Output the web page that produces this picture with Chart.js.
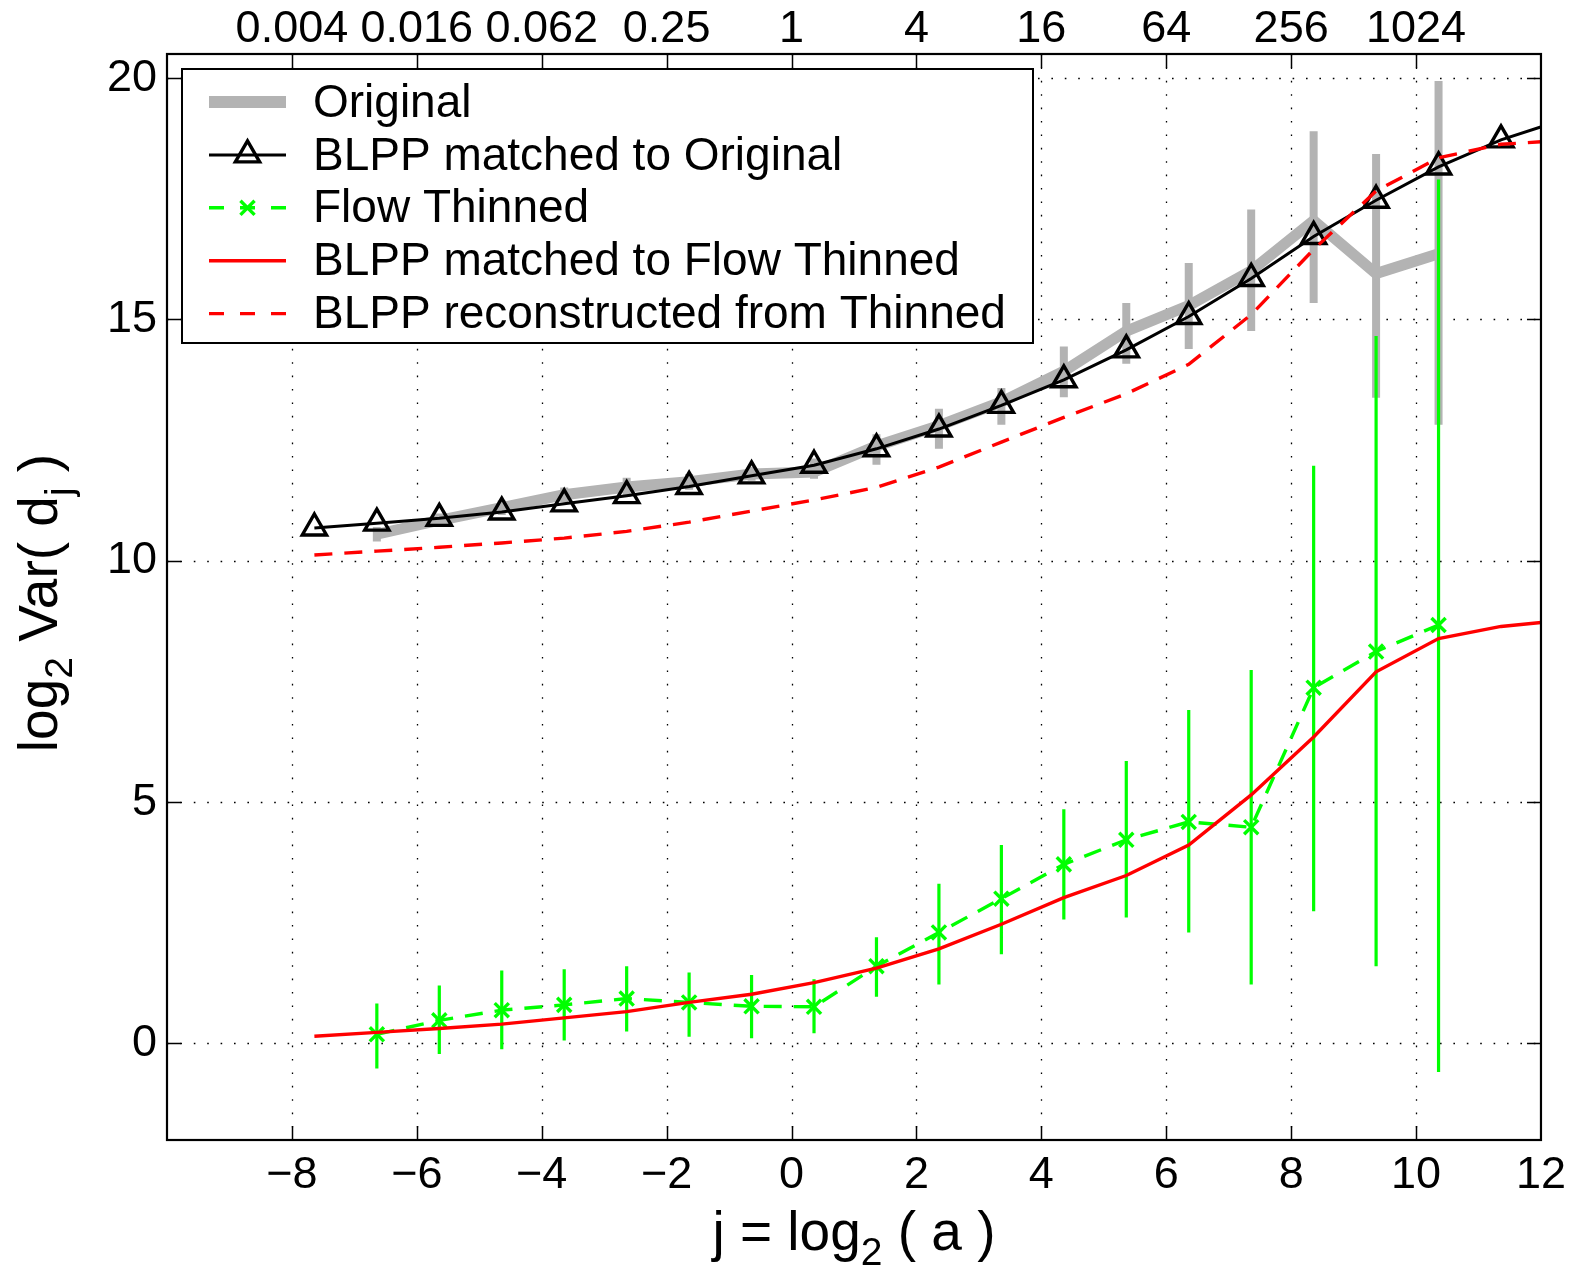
<!DOCTYPE html>
<html>
<head>
<meta charset="utf-8">
<title>log2 Var(d_j) versus scale</title>
<script src="https://cdn.jsdelivr.net/npm/chart.js"></script>
<style>
  html, body { margin: 0; padding: 0; background: #fff; }
  canvas { display: block; }
</style>
</head>
<body>
<canvas id="varChart" width="1575" height="1272"></canvas>
<script>
// octave positions j = log2(a)
const jAll = [-7.64, -6.64, -5.64, -4.64, -3.64, -2.64, -1.64, -0.64, 0.36, 1.36, 2.36,
              3.36, 4.36, 5.36, 6.36, 7.36, 8.36, 9.36, 10.36, 11.36, 12.36];
const jShort = jAll.slice(1, 19);   // octaves where the measured series exist

// tick labels
const jTicks = [-8, -6, -4, -2, 0, 2, 4, 6, 8, 10, 12];
const jTickLabels = ['\u22128', '\u22126', '\u22124', '\u22122', '0', '2', '4', '6', '8', '10', '12'];
const scaleTicks = [-8, -6, -4, -2, 0, 2, 4, 6, 8, 10];
const scaleTickLabels = ['0.004', '0.016', '0.062', '0.25', '1', '4', '16', '64', '256', '1024'];
const varTicks = [0, 5, 10, 15, 20];
const varTickLabels = ['0', '5', '10', '15', '20'];

const seriesNames = ['Original', 'BLPP matched to Original', 'Flow Thinned',
                     'BLPP matched to Flow Thinned', 'BLPP reconstructed from Thinned'];

// Original (measured), with error bars
const original     = [10.55, 10.84, 11.10, 11.37, 11.53, 11.64, 11.80, 11.84, 12.38, 12.80,
                      13.29, 13.93, 14.76, 15.29, 16.01, 17.05, 15.95, 16.36];
const originalLow  = [10.40, 10.72, 10.95, 11.22, 11.32, 11.47, 11.66, 11.70, 11.99, 12.32,
                      12.82, 13.39, 14.08, 14.39, 14.76, 15.34, 13.38, 12.82];
const originalHigh = [10.70, 10.98, 11.25, 11.52, 11.72, 11.80, 11.95, 12.12, 12.62, 13.15,
                      13.58, 14.44, 15.34, 16.17, 17.28, 18.90, 18.43, 19.94];

// BLPP model matched to Original
const blppOriginal = [10.68, 10.78, 10.88, 11.01, 11.18, 11.35, 11.54, 11.76, 11.98, 12.32, 12.73,
                      13.22, 13.75, 14.37, 15.06, 15.85, 16.72, 17.47, 18.16, 18.72, 19.14];

// Flow thinned (measured), with error bars
const flow     = [0.19, 0.48, 0.69, 0.80, 0.93, 0.85, 0.77, 0.76, 1.60, 2.30,
                  3.00, 3.71, 4.22, 4.59, 4.48, 7.37, 8.12, 8.67];
const flowLow  = [-0.52, -0.22, -0.12, 0.06, 0.25, 0.14, 0.11, 0.21, 0.97, 1.22,
                  1.85, 2.57, 2.61, 2.30, 1.22, 2.74, 1.60, -0.59];
const flowHigh = [0.83, 1.20, 1.51, 1.54, 1.60, 1.47, 1.42, 1.33, 2.20, 3.31,
                  4.11, 4.85, 5.85, 6.91, 7.74, 11.97, 14.66, 17.90];

// BLPP matched to flow thinned, and reconstructed from thinned
const blppFlow  = [0.15, 0.23, 0.31, 0.40, 0.53, 0.66, 0.85, 1.02, 1.26, 1.56, 1.96,
                   2.47, 3.02, 3.48, 4.11, 5.15, 6.35, 7.70, 8.39, 8.64, 8.77];
const blppRecon = [10.12, 10.20, 10.28, 10.37, 10.47, 10.61, 10.80, 11.03, 11.26, 11.52, 11.94,
                   12.46, 12.97, 13.46, 14.07, 15.10, 16.45, 17.66, 18.35, 18.63, 18.71];

const FONT = '"Liberation Sans", Arial, Helvetica, sans-serif';
const GRAY = '#b3b3b3';
const GREEN = '#00ff00';
const RED = '#ff0000';

function points(xs, ys) {
  return xs.map((x, i) => ({x: x, y: ys[i]}));
}

// vertical error bars as one broken line: low, high, gap
function barSegments(xs, lows, highs) {
  const pts = [];
  xs.forEach((x, i) => {
    pts.push({x: x, y: lows[i]}, {x: x, y: highs[i]}, {x: x, y: null});
  });
  return pts;
}

const datasets = [
  { label: seriesNames[0], data: points(jShort, original), borderColor: GRAY, borderWidth: 11,
    pointRadius: 0, order: 10 },
  { label: 'Original bars', data: barSegments(jShort, originalLow, originalHigh), borderColor: GRAY,
    borderWidth: 8, pointRadius: 0, spanGaps: false, order: 11 },
  { label: seriesNames[1], data: points(jAll, blppOriginal), borderColor: '#000', borderWidth: 3,
    pointStyle: 'triangle', pointRadius: 14, pointBorderWidth: 3.4, pointBorderColor: '#000',
    pointBackgroundColor: 'rgba(0,0,0,0)', order: 8 },
  { label: 'Flow bars', data: barSegments(jShort, flowLow, flowHigh), borderColor: GREEN,
    borderWidth: 3.2, pointRadius: 0, spanGaps: false, order: 7 },
  { label: seriesNames[2], data: points(jShort, flow), borderColor: GREEN, borderWidth: 3.4,
    borderDash: [18, 12], pointStyle: 'crossRot', pointRadius: 10, pointBorderWidth: 3.4,
    pointBorderColor: GREEN, pointBackgroundColor: GREEN, order: 6 },
  { label: seriesNames[3], data: points(jAll, blppFlow), borderColor: RED, borderWidth: 3.4,
    pointRadius: 0, order: 5 },
  { label: seriesNames[4], data: points(jAll, blppRecon), borderColor: RED, borderWidth: 3.4,
    borderDash: [18, 12], pointRadius: 0, order: 4 }
];
const legendRows = [0, 2, 4, 5, 6];

function tickFont() { return {family: FONT, size: 45}; }

// matlab style: dotted grid, box with inward ticks, legend inside, sub-scripted labels
const matlabAxes = {
  id: 'matlabAxes',
  beforeDatasetsDraw(chart) {
    const {ctx, chartArea: a, scales} = chart;
    ctx.save();
    ctx.strokeStyle = '#000';
    ctx.lineWidth = 1.3;
    ctx.setLineDash([1.6, 11.8]);
    ctx.beginPath();
    scaleTicks.forEach(v => {
      const x = Math.round(scales.x.getPixelForValue(v)) + 0.5;
      ctx.moveTo(x, a.top); ctx.lineTo(x, a.bottom);
    });
    varTicks.forEach(v => {
      const y = Math.round(scales.y.getPixelForValue(v)) + 0.5;
      ctx.moveTo(a.left, y); ctx.lineTo(a.right, y);
    });
    ctx.stroke();
    ctx.restore();
  },
  afterDraw(chart) {
    const {ctx, chartArea: a, scales} = chart;
    ctx.save();
    ctx.strokeStyle = '#000';
    ctx.setLineDash([]);
    // inward ticks
    ctx.lineWidth = 1.5;
    ctx.beginPath();
    scaleTicks.forEach(v => {
      const x = Math.round(scales.x.getPixelForValue(v)) + 0.5;
      ctx.moveTo(x, a.bottom); ctx.lineTo(x, a.bottom - 14);
      ctx.moveTo(x, a.top); ctx.lineTo(x, a.top + 14);
    });
    varTicks.forEach(v => {
      const y = Math.round(scales.y.getPixelForValue(v)) + 0.5;
      ctx.moveTo(a.left, y); ctx.lineTo(a.left + 14, y);
      ctx.moveTo(a.right, y); ctx.lineTo(a.right - 14, y);
    });
    ctx.stroke();
    // box
    ctx.lineWidth = 2.2;
    ctx.strokeRect(a.left, a.top, a.right - a.left, a.bottom - a.top);

    drawLegend(chart);

    // axis titles
    ctx.fillStyle = '#000';
    ctx.textBaseline = 'alphabetic';
    drawRich(ctx, [{t: 'j = log'}, {t: '2', sub: true}, {t: ' ( a )'}],
             (a.left + a.right) / 2, 1250);
    ctx.save();
    ctx.translate(57, (a.top + a.bottom) / 2 + 6);
    ctx.rotate(-Math.PI / 2);
    drawRich(ctx, [{t: 'log'}, {t: '2', sub: true}, {t: ' Var( d'}, {t: 'j', sub: true}, {t: ' )'}], 0, 0);
    ctx.restore();
    ctx.restore();
  }
};

function drawRich(ctx, parts, cx, y) {
  const big = '55px ' + FONT, small = '39px ' + FONT;
  let w = 0;
  parts.forEach(p => { ctx.font = p.sub ? small : big; w += ctx.measureText(p.t).width; });
  let x = cx - w / 2;
  ctx.textAlign = 'left';
  parts.forEach(p => {
    ctx.font = p.sub ? small : big;
    ctx.fillText(p.t, x, p.sub ? y + 15 : y);
    x += ctx.measureText(p.t).width;
  });
}

function drawLegend(chart) {
  const ctx = chart.ctx;
  const box = {left: 182, top: 69, right: 1033, bottom: 343};
  ctx.save();
  ctx.fillStyle = '#fff';
  ctx.fillRect(box.left, box.top, box.right - box.left, box.bottom - box.top);
  ctx.lineWidth = 2;
  ctx.strokeStyle = '#000';
  ctx.strokeRect(box.left, box.top, box.right - box.left, box.bottom - box.top);

  const x0 = 209, x1 = 286, xt = 313;
  legendRows.forEach((di, row) => {
    const d = chart.data.datasets[di];
    const y = 102 + row * 52.9;
    ctx.save();
    ctx.beginPath();
    ctx.rect(x0, y - 10, x1 - x0, 20);
    ctx.clip();
    ctx.strokeStyle = d.borderColor;
    ctx.lineWidth = d.borderWidth === 11 ? 12 : d.borderWidth;
    ctx.setLineDash(d.borderDash ? [15, 16] : []);
    ctx.beginPath();
    ctx.moveTo(x0, y); ctx.lineTo(x1, y);
    ctx.stroke();
    ctx.restore();
    if (d.pointRadius > 0) {
      ctx.save();
      ctx.setLineDash([]);
      ctx.strokeStyle = d.pointBorderColor;
      ctx.fillStyle = 'rgba(0,0,0,0)';
      ctx.lineWidth = d.pointBorderWidth;
      Chart.helpers.drawPoint(ctx, {pointStyle: d.pointStyle, radius: d.pointRadius,
        rotation: 0, borderWidth: d.pointBorderWidth}, (x0 + x1) / 2, y);
      ctx.restore();
    }
    ctx.fillStyle = '#000';
    ctx.font = '46px ' + FONT;
    ctx.textAlign = 'left';
    ctx.textBaseline = 'middle';
    ctx.fillText(d.label, xt, y + 2);
  });
  ctx.restore();
}

new Chart(document.getElementById('varChart'), {
  type: 'line',
  data: { datasets: datasets },
  options: {
    responsive: false,
    animation: false,
    devicePixelRatio: 1,
    layout: { padding: { left: 0, top: 0, right: 30, bottom: 0 } },
    plugins: { legend: { display: false }, tooltip: { enabled: false } },
    elements: { line: { tension: 0, borderCapStyle: 'butt', borderJoinStyle: 'miter' } },
    scales: {
      x: {
        type: 'linear', position: 'bottom', min: -10, max: 12,
        afterBuildTicks: s => { s.ticks = jTicks.map(v => ({value: v})); },
        afterFit: s => { s.height = 132; },
        ticks: { autoSkip: false, maxRotation: 0, padding: 9, color: '#000', font: tickFont(),
                 callback: (v, i) => jTickLabels[i] },
        grid: { display: false, drawTicks: false },
        border: { display: false }
      },
      xTop: {
        type: 'linear', position: 'top', min: -10, max: 12,
        afterBuildTicks: s => { s.ticks = scaleTicks.map(v => ({value: v})); },
        afterFit: s => { s.height = 54; },
        ticks: { autoSkip: false, maxRotation: 0, padding: -3, color: '#000', font: tickFont(),
                 callback: (v, i) => scaleTickLabels[i] },
        grid: { display: false, drawTicks: false },
        border: { display: false }
      },
      y: {
        type: 'linear', position: 'left', min: -2, max: 20.5,
        afterBuildTicks: s => { s.ticks = varTicks.map(v => ({value: v})); },
        afterFit: s => { s.width = 167; },
        ticks: { autoSkip: false, padding: 10, color: '#000', font: tickFont(),
                 callback: (v, i) => varTickLabels[i] },
        grid: { display: false, drawTicks: false },
        border: { display: false }
      }
    }
  },
  plugins: [matlabAxes]
});
</script>
</body>
</html>
